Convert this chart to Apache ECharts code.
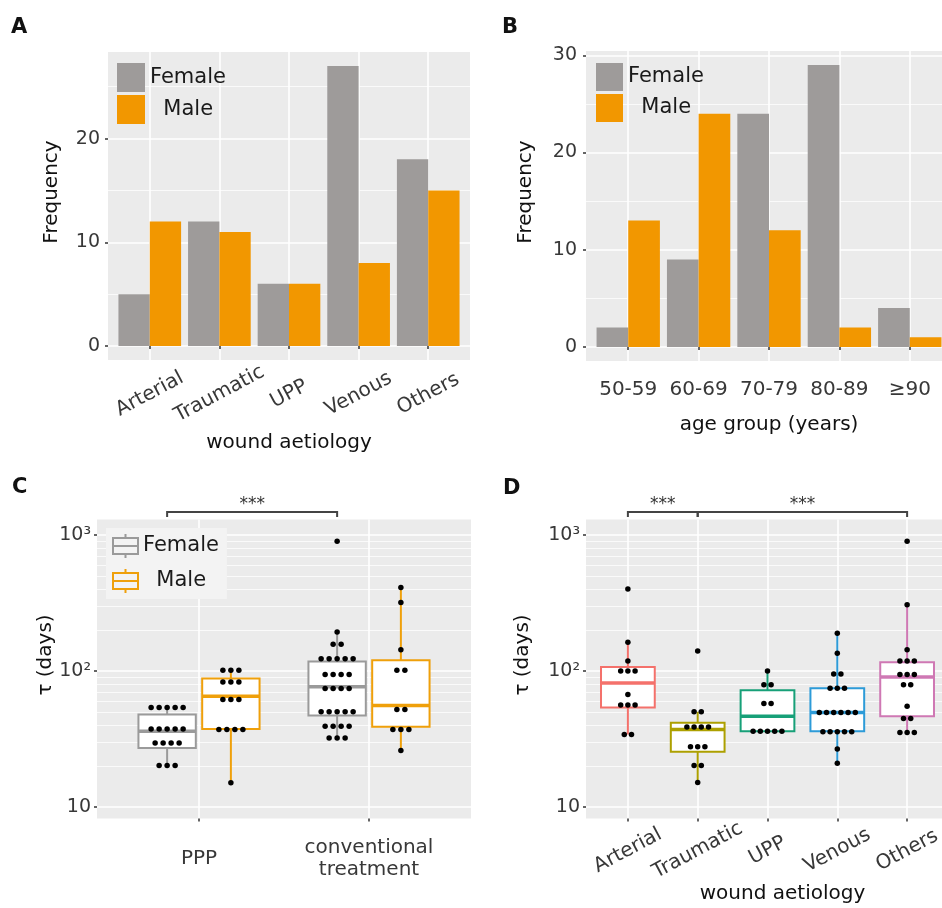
<!DOCTYPE html>
<html><head><meta charset="utf-8">
<script src="https://cdn.jsdelivr.net/npm/echarts@6/dist/echarts.min.js"></script>
<style>html,body{margin:0;padding:0;background:#fff}#c{width:942px;height:908px}</style>
</head><body><div id="c"></div>
<script>
// ---------- DATA ----------
const aetiologyCats = ['Arterial', 'Traumatic', 'UPP', 'Venous', 'Others'];
const femaleAetiology = [5, 12, 6, 27, 18];
const maleAetiology = [12, 11, 6, 8, 15];

const ageCats = ['50-59', '60-69', '70-79', '80-89', '≥90'];
const femaleAge = [2, 9, 24, 29, 4];
const maleAge = [13, 24, 12, 2, 1];

const freqTicksA = [0, 10, 20];
const freqMinorA = [5, 15, 25];
const freqTicksB = [0, 10, 20, 30];
const freqMinorB = [5, 15, 25];

const logTicks = [10, 100, 1000];
const logTickLabels = ['10', '10²', '10³'];
const logMinor = [20, 30, 40, 50, 60, 70, 80, 90, 200, 300, 400, 500, 600, 700, 800, 900];

const treatmentCats = ['PPP', 'conventional\ntreatment'];
// box stats [min, Q1, median, Q3, max]
const boxFemaleC = [[20.1, 27.1, 35.9, 47.7, 53.8], [32.1, 46.9, 76.5, 117, 193]];
const boxMaleC = [[15, 37.3, 65, 88, 101], [26, 38.8, 55.6, 120, 411]];
// dots [value, count]
const dotsFemaleC = [
  [[53.8, 5], [37.4, 5], [29.5, 4], [20.1, 3]],
  [[900, 1], [193, 1], [157, 2], [123, 5], [94, 4], [74.1, 4], [50, 5], [39.1, 4], [32.1, 3]]
];
const dotsMaleC = [
  [[101, 3], [82.7, 3], [61.6, 3], [37, 4], [15, 1]],
  [[411, 1], [318, 1], [143, 1], [101, 2], [52, 2], [37, 3], [26, 1]]
];
const bracketsC = [[0, 1]];

const boxD = [
  [34.1, 53.7, 81.4, 106.6, 162.5],
  [15.1, 25.4, 37.1, 41.5, 50],
  [36, 36, 46.4, 72, 100],
  [20.9, 36, 49.4, 74.4, 189],
  [35.2, 46.4, 90, 116, 307]
];
const dotsD = [
  [[400, 1], [162.5, 1], [118, 1], [100, 3], [67, 1], [56, 3], [34.1, 2]],
  [[140, 1], [50, 2], [38.7, 4], [27.7, 3], [20.1, 2], [15.1, 1]],
  [[100, 1], [79, 2], [57.5, 2], [36, 5]],
  [[189, 1], [135, 1], [95, 2], [74.4, 3], [49.4, 6], [35.6, 5], [26.6, 1], [20.9, 1]],
  [[900, 1], [307, 1], [143, 1], [118, 3], [94, 3], [79, 2], [55, 1], [44.6, 2], [35.2, 3]]
];
const bracketsD = [[0, 1], [1, 4]];

// ---------- STYLE ----------
const FONT = 'DejaVu Sans';
const PANEL = '#EBEBEB';
const FEMALE = '#9E9B9A', MALE = '#F29700';
const FEMALE_BOX = '#9A9A9A', MALE_BOX = '#EFA00B';
const D_COLORS = ['#F4716B', '#ADA000', '#17A078', '#2D9BD8', '#CF78B4'];
const DODGE = 0.1875;
const BRACKET_LEVEL = 1475;
const TICK_COLOR = '#383838';

function catXAxis(grid, cats, label, extra) {
  const ticks = cats.map((_, i) => i + 1);
  return Object.assign({
    type: 'value', gridIndex: grid, min: 0.4, max: cats.length + 0.6,
    axisLine: { show: false },
    axisTick: { show: true, length: 3, customValues: ticks, lineStyle: { color: '#333', width: 1.5 } },
    axisLabel: Object.assign({ customValues: ticks, formatter: v => cats[Math.round(v) - 1],
      fontFamily: FONT, fontSize: 20, color: TICK_COLOR }, label),
    splitLine: { show: true, lineStyle: { color: '#fff', width: 1.6 } },
    nameLocation: 'middle', nameMoveOverlap: false,
    nameTextStyle: { fontFamily: FONT, fontSize: 20, color: '#111' }
  }, extra);
}
function majorY(grid, opts, ticks, fmt, extra) {
  return Object.assign({
    gridIndex: grid,
    axisLine: { show: false },
    axisTick: { show: true, length: 3, customValues: ticks, lineStyle: { color: '#333', width: 1.5 } },
    axisLabel: { customValues: ticks, formatter: fmt, fontFamily: FONT, fontSize: 19, color: TICK_COLOR },
    splitLine: { show: true, lineStyle: { color: '#fff', width: 1.6 } },
    nameLocation: 'middle', nameMoveOverlap: false,
    nameTextStyle: { fontFamily: FONT, fontSize: 20, color: '#111', padding: [0, 0, 0, 28] }
  }, opts, extra);
}
function minorY(grid, opts, ticks) {
  return Object.assign({
    gridIndex: grid, position: 'left',
    axisLine: { show: false },
    axisTick: { show: false, customValues: ticks },
    axisLabel: { show: false, customValues: ticks },
    splitLine: { show: true, lineStyle: { color: 'rgba(255,255,255,0.75)', width: 1 } }
  }, opts);
}

function boxRender(colorFn, halfW) {
  return function (params, api) {
    const x = api.value(0);
    const lo = api.coord([x, api.value(1)]);
    const q1 = api.coord([x, api.value(2)]);
    const md = api.coord([x, api.value(3)]);
    const q3 = api.coord([x, api.value(4)]);
    const hi = api.coord([x, api.value(5)]);
    const xl = api.coord([x - halfW, api.value(3)])[0];
    const xr = api.coord([x + halfW, api.value(3)])[0];
    const c = colorFn(params.dataIndex);
    return { type: 'group', children: [
      { type: 'line', shape: { x1: md[0], y1: hi[1], x2: md[0], y2: q3[1] }, style: { stroke: c, lineWidth: 2 } },
      { type: 'line', shape: { x1: md[0], y1: q1[1], x2: md[0], y2: lo[1] }, style: { stroke: c, lineWidth: 2 } },
      { type: 'rect', shape: { x: xl, y: q3[1], width: xr - xl, height: q1[1] - q3[1] }, style: { fill: '#fff', stroke: c, lineWidth: 2 } },
      { type: 'line', shape: { x1: xl, y1: md[1], x2: xr, y2: md[1] }, style: { stroke: c, lineWidth: 3.5 } }
    ] };
  };
}
function bracketRender(params, api) {
  const a = api.coord([api.value(0), api.value(1)]);
  const b = api.coord([api.value(2), api.value(1)]);
  const y = a[1];
  return { type: 'group', children: [
    { type: 'polyline', shape: { points: [[a[0], y + 5], [a[0], y], [b[0], y], [b[0], y + 5]] },
      style: { stroke: '#444', lineWidth: 2, fill: null } },
    { type: 'text', x: (a[0] + b[0]) / 2, y: y + 1,
      style: { text: '***', fontSize: 17, fontFamily: FONT, fill: '#333', align: 'center', verticalAlign: 'bottom',
               textAlign: 'center', textVerticalAlign: 'bottom' } }
  ] };
}
function dotData(x, groups, spacing) {
  const out = [];
  groups.forEach(([v, n]) => {
    for (let k = 0; k < n; k++) out.push({ value: [x, v], symbolOffset: [(k - (n - 1) / 2) * spacing, 0] });
  });
  return out;
}
const logFmt = v => logTickLabels[logTicks.findIndex(t => Math.abs(t - v) / t < 1e-6)] || '';

const cDots = [];
dotsFemaleC.forEach((g, i) => cDots.push(...dotData(i + 1 - DODGE, g, 8)));
dotsMaleC.forEach((g, i) => cDots.push(...dotData(i + 1 + DODGE, g, 8)));
const dDots = [];
dotsD.forEach((g, i) => dDots.push(...dotData(i + 1, g, 7.2)));

const legendText = { fontFamily: FONT, fontSize: 21, color: '#1a1a1a' };
const legendFmt = n => (n === 'Male' ? '  Male' : n);
const boxIcon = 'path://M12.5,0L12.5,4M0,4L25,4L25,20L0,20ZM0,12L25,12M12.5,20L12.5,24';
const titleStyle = { fontFamily: 'DejaVu Sans', fontSize: 21, fontWeight: 'bold', color: '#111' };
const tickLabel = (ticks, extra) => Object.assign({ customValues: ticks, fontFamily: FONT, fontSize: 19, color: TICK_COLOR }, extra);

const option = {
  animation: false,
  backgroundColor: '#fff',
  title: [
    { text: 'A', left: 11, top: 17, padding: 0, textStyle: titleStyle },
    { text: 'B', left: 502, top: 17, padding: 0, textStyle: titleStyle },
    { text: 'C', left: 12, top: 477, padding: 0, textStyle: titleStyle },
    { text: 'D', left: 503, top: 478, padding: 0, textStyle: titleStyle }
  ],
  legend: [
    { left: 117, top: 63, orient: 'vertical', padding: 0, itemWidth: 28, itemHeight: 29, itemGap: 3,
      textStyle: legendText, formatter: legendFmt, selectedMode: false,
      data: [{ name: 'Female', icon: 'rect', itemStyle: { color: FEMALE } },
             { name: 'Male', icon: 'rect', itemStyle: { color: MALE } }] },
    { left: 596, top: 63, orient: 'vertical', padding: 0, itemWidth: 27, itemHeight: 28, itemGap: 3,
      textStyle: legendText, formatter: legendFmt, selectedMode: false,
      data: [{ name: 'Female', icon: 'rect', itemStyle: { color: FEMALE } },
             { name: 'Male', icon: 'rect', itemStyle: { color: MALE } }] },
    { left: 106, top: 528, orient: 'vertical', padding: [5, 8, 5, 6], itemWidth: 25, itemHeight: 24, itemGap: 9,
      backgroundColor: '#F3F3F3', textStyle: legendText, formatter: legendFmt, selectedMode: false,
      data: [{ name: 'Female', icon: boxIcon, itemStyle: { color: 'rgba(0,0,0,0)', borderColor: FEMALE_BOX, borderWidth: 2 } },
             { name: 'Male', icon: boxIcon, itemStyle: { color: 'rgba(0,0,0,0)', borderColor: MALE_BOX, borderWidth: 2 } }] }
  ],
  grid: [
    { left: 108, top: 52, width: 362, height: 308, show: true, backgroundColor: PANEL, borderWidth: 0, outerBoundsMode: 'none' },
    { left: 586, top: 51, width: 366, height: 310, show: true, backgroundColor: PANEL, borderWidth: 0, outerBoundsMode: 'none' },
    { left: 97, top: 519.5, width: 374, height: 299, show: true, backgroundColor: PANEL, borderWidth: 0, outerBoundsMode: 'none' },
    { left: 586, top: 519.5, width: 363, height: 299, show: true, backgroundColor: PANEL, borderWidth: 0, outerBoundsMode: 'none' }
  ],
  xAxis: [
    catXAxis(0, aetiologyCats, { rotate: 28, align: 'center', verticalAlign: 'middle', margin: 34 },
      { name: 'wound aetiology', nameGap: 73 }),
    catXAxis(1, ageCats, { margin: 19 }, { name: 'age group (years)', nameGap: 54 }),
    catXAxis(2, treatmentCats, { verticalAlign: 'middle', margin: 40, lineHeight: 22 }, {}),
    catXAxis(3, aetiologyCats, { rotate: 28, align: 'center', verticalAlign: 'middle', margin: 32 },
      { name: 'wound aetiology', nameGap: 65,
        nameTextStyle: { fontFamily: FONT, fontSize: 20, color: '#111', padding: [0, 0, 0, 30] } })
  ],
  yAxis: [
    majorY(0, { type: 'value', min: -1.35, max: 28.35 }, freqTicksA, null,
      { name: 'Frequency', nameGap: 46, axisLabel: tickLabel(freqTicksA, { margin: 8 }) }),
    majorY(1, { type: 'value', min: -1.45, max: 30.45 }, freqTicksB, null,
      { name: 'Frequency', nameGap: 50, axisLabel: tickLabel(freqTicksB, { margin: 9 }) }),
    majorY(2, { type: 'log', logBase: 10, min: 8.2, max: 1300 }, logTicks, logFmt,
      { name: 'τ (days)', nameGap: 41, axisLabel: tickLabel(logTicks, { formatter: logFmt, margin: 6 }) }),
    majorY(3, { type: 'log', logBase: 10, min: 8.2, max: 1300 }, logTicks, logFmt,
      { name: 'τ (days)', nameGap: 53, axisLabel: tickLabel(logTicks, { formatter: logFmt, margin: 6 }) }),
    minorY(0, { type: 'value', min: -1.35, max: 28.35 }, freqMinorA),
    minorY(1, { type: 'value', min: -1.45, max: 30.45 }, freqMinorB),
    minorY(2, { type: 'log', logBase: 10, min: 8.2, max: 1300 }, logMinor),
    minorY(3, { type: 'log', logBase: 10, min: 8.2, max: 1300 }, logMinor)
  ],
  series: [
    { name: 'Female', type: 'bar', xAxisIndex: 0, yAxisIndex: 0, barWidth: '45%', barGap: '0%',
      itemStyle: { color: FEMALE }, data: femaleAetiology.map((v, i) => [i + 1, v]) },
    { name: 'Male', type: 'bar', xAxisIndex: 0, yAxisIndex: 0, barWidth: '45%', barGap: '0%',
      itemStyle: { color: MALE }, data: maleAetiology.map((v, i) => [i + 1, v]) },
    { name: 'Female', type: 'bar', xAxisIndex: 1, yAxisIndex: 1, barWidth: '45%', barGap: '0%',
      itemStyle: { color: FEMALE }, data: femaleAge.map((v, i) => [i + 1, v]) },
    { name: 'Male', type: 'bar', xAxisIndex: 1, yAxisIndex: 1, barWidth: '45%', barGap: '0%',
      itemStyle: { color: MALE }, data: maleAge.map((v, i) => [i + 1, v]) },
    { name: 'Female', type: 'custom', xAxisIndex: 2, yAxisIndex: 2, z: 2,
      renderItem: boxRender(() => FEMALE_BOX, 0.3375 / 2), encode: { x: 0, y: [1, 2, 3, 4, 5] },
      itemStyle: { color: FEMALE_BOX },
      data: boxFemaleC.map((b, i) => [i + 1 - DODGE, ...b]) },
    { name: 'Male', type: 'custom', xAxisIndex: 2, yAxisIndex: 2, z: 2,
      renderItem: boxRender(() => MALE_BOX, 0.3375 / 2), encode: { x: 0, y: [1, 2, 3, 4, 5] },
      itemStyle: { color: MALE_BOX },
      data: boxMaleC.map((b, i) => [i + 1 + DODGE, ...b]) },
    { name: 'dotsC', type: 'scatter', xAxisIndex: 2, yAxisIndex: 2, z: 4, symbolSize: 5.5, silent: true,
      itemStyle: { color: '#000', opacity: 1 }, data: cDots },
    { name: 'bracketC', type: 'custom', xAxisIndex: 2, yAxisIndex: 2, z: 5, clip: false,
      renderItem: bracketRender, encode: { x: [0, 2], y: 1 },
      data: bracketsC.map(([a, b]) => [a + 1 - DODGE, BRACKET_LEVEL, b + 1 - DODGE]) },
    { name: 'boxD', type: 'custom', xAxisIndex: 3, yAxisIndex: 3, z: 2,
      renderItem: boxRender(i => D_COLORS[i], 0.385), encode: { x: 0, y: [1, 2, 3, 4, 5] },
      data: boxD.map((b, i) => [i + 1, ...b]) },
    { name: 'dotsD', type: 'scatter', xAxisIndex: 3, yAxisIndex: 3, z: 4, symbolSize: 5.5, silent: true,
      itemStyle: { color: '#000', opacity: 1 }, data: dDots },
    { name: 'bracketD', type: 'custom', xAxisIndex: 3, yAxisIndex: 3, z: 5, clip: false,
      renderItem: bracketRender, encode: { x: [0, 2], y: 1 },
      data: bracketsD.map(([a, b]) => [a + 1, BRACKET_LEVEL, b + 1]) }
  ]
};
const chart = echarts.init(document.getElementById('c'), null, { renderer: 'canvas', width: 942, height: 908 });
chart.setOption(option);
</script>
</body></html>
